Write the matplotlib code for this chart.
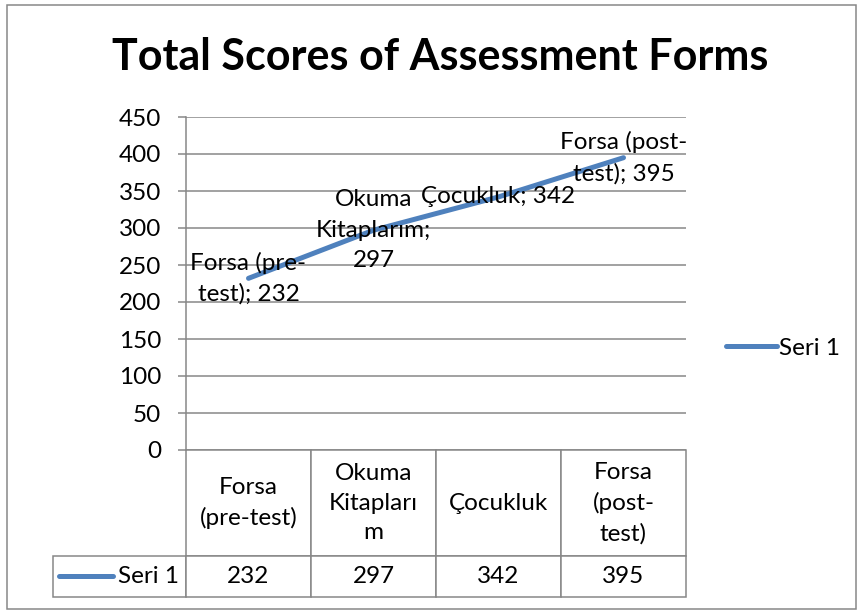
import matplotlib
matplotlib.use("Agg")
import matplotlib.pyplot as plt
from matplotlib.patches import Rectangle

plt.rcParams['font.family'] = ['Lato', 'DejaVu Sans']

# data
categories = ['Forsa (pre-test)', 'Okuma Kitaplarım', 'Çocukluk', 'Forsa (post-test)']
header_labels = ['Forsa\n(pre-test)', 'Okuma\nKitapları\nm', 'Çocukluk', 'Forsa\n(post-\ntest)']
values = [232, 297, 342, 395]
series_name = 'Seri 1'
point_labels = ['Forsa (pre-\ntest); %d' % values[0],
                'Okuma\nKitaplarım;\n%d' % values[1],
                'Çocukluk; %d' % values[2],
                'Forsa (post-\ntest); %d' % values[3]]
yticks = list(range(0, 451, 50))

W, H = 861, 612
grey = '#878787'
blue = '#4F81BD'
fs = 17.5

fig = plt.figure(figsize=(W / 100, H / 100), dpi=100)
ax = fig.add_axes([186 / W, (H - 450) / H, 500 / W, 333 / H])

x = list(range(len(values)))
ax.plot(x, values, color=blue, lw=3.6, solid_capstyle='round', label=series_name)
for xi, v, lab in zip(x, values, point_labels):
    ax.text(xi, v, lab, ha='center', va='center', fontsize=fs, linespacing=1.55)

ax.set_xlim(-0.5, len(values) - 0.5)
ax.set_ylim(0, 450)
ax.set_yticks(yticks)
ax.set_xticks([])
ax.yaxis.grid(True, color=grey, lw=1.1)
ax.set_axisbelow(True)
for s in ['top', 'right', 'bottom']:
    ax.spines[s].set_visible(False)
ax.spines['left'].set_color(grey)
ax.spines['left'].set_linewidth(1.1)
ax.tick_params(axis='y', direction='out', length=6, width=1.1, color=grey,
               labelsize=fs, pad=12)

# data table under the plot, first column holds the series name
lab_w = 133 / 500
tb = ax.table(cellText=[[series_name] + [str(v) for v in values]],
              colLabels=[''] + header_labels, cellLoc='center',
              bbox=[-lab_w, -147 / 333, 1 + lab_w, 147 / 333])
tb.auto_set_font_size(False)
tb.set_fontsize(fs)
for (r, c), cell in tb.get_celld().items():
    cell.set_edgecolor(grey)
    cell.set_linewidth(1.1)
    cell.set_width(lab_w if c == 0 else 0.25)
    cell.set_height(106 / 333 if r == 0 else 41 / 333)
    cell.get_text().set_linespacing(1.5)
    if c == 0:
        if r == 0:
            cell.visible_edges = ''
        else:
            cell.PAD = 0.05
            cell.get_text().set_ha('right')

# legend key inside the table row
ax.plot([-0.254, -0.146], [-0.378, -0.378], transform=ax.transAxes, clip_on=False,
        color=blue, lw=3.6, solid_capstyle='round', zorder=5)

ax.legend(loc='center left', bbox_to_anchor=(726 / W, 1 - 348 / H),
          bbox_transform=fig.transFigure, frameon=False, fontsize=fs,
          handlelength=2.1, handletextpad=0.1, borderpad=0, borderaxespad=0)

fig.text(440 / W, 1 - 70 / H, 'Total Scores of Assessment Forms', ha='center',
         va='baseline', fontsize=31, fontweight='bold')

fig.patches.append(Rectangle((7 / W, 3 / H), 849 / W, 604 / H, transform=fig.transFigure,
                             fill=False, edgecolor=grey, lw=1.1))

fig.savefig('out.png', dpi=100)
